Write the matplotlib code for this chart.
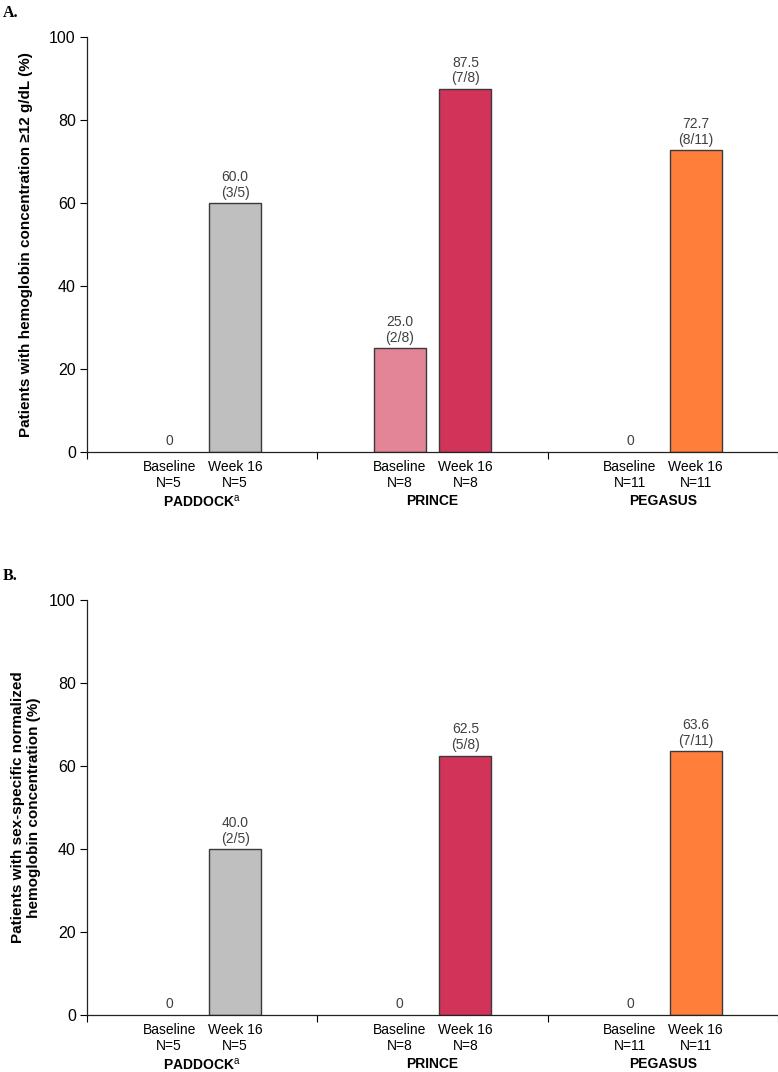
import numpy as np
import matplotlib
matplotlib.use('Agg')
import matplotlib.pyplot as plt
from matplotlib.ticker import MultipleLocator, FixedLocator

plt.rcParams['font.family'] = ['Liberation Sans', 'DejaVu Sans']
plt.rcParams['mathtext.fontset'] = 'custom'
plt.rcParams['mathtext.rm'] = 'Liberation Sans'

studies = ['PADDOCK$^{\\mathrm{a}}$', 'PRINCE', 'PEGASUS']
n_pts = [5, 8, 11]

# panel A: hemoglobin >= 12 g/dL
a_base = [0.0, 25.0, 0.0]
a_base_k = [0, 2, 0]
a_wk16 = [60.0, 87.5, 72.7]
a_wk16_k = [3, 7, 8]

# panel B: sex-specific normalized hemoglobin
b_base = [0.0, 0.0, 0.0]
b_base_k = [0, 0, 0]
b_wk16 = [40.0, 62.5, 63.6]
b_wk16_k = [2, 5, 7]

base_colors = ['#BFBFBF', '#E38497', '#FF7F3A']
wk16_colors = ['#BFBFBF', '#D23358', '#FF7F3A']

ylab_a = 'Patients with hemoglobin concentration \u226512 g/dL (%)'
ylab_b = 'Patients with sex-specific normalized\nhemoglobin concentration (%)'

off = 0.143
bw = 0.226


def value_label(v, k, n):
    if v == 0:
        return '0'
    return '%.1f\n(%d/%d)' % (v, k, n)


def draw_panel(ax, base, base_k, wk16, wk16_k, ylab, lpad):
    x = np.arange(len(studies))
    for i in range(len(studies)):
        for pos, v, k, col in [(x[i] - off, base[i], base_k[i], base_colors[i]),
                               (x[i] + off, wk16[i], wk16_k[i], wk16_colors[i])]:
            if v > 0:
                ax.bar(pos, v, width=bw, color=col, edgecolor='#3a3a3a', linewidth=1.0, zorder=2)
            ax.annotate(value_label(v, k, n_pts[i]), xy=(pos, v), xytext=(0, 2.5),
                        textcoords='offset points', ha='center', va='bottom',
                        fontsize=10, color='#404040', linespacing=1.15)
        ax.annotate(studies[i], xy=(x[i], 0), xycoords=('data', 'axes fraction'),
                    xytext=(0, -35.5), textcoords='offset points', ha='center', va='center',
                    fontsize=10, fontweight='bold')

    ticks = []
    labels = []
    for i in range(len(studies)):
        ticks += [x[i] - off, x[i] + off]
        labels += ['Baseline\nN=%d' % n_pts[i], 'Week 16\nN=%d' % n_pts[i]]
    ax.set_xticks(ticks)
    ax.set_xticklabels(labels, fontsize=10, linespacing=1.15)
    ax.tick_params(axis='x', which='major', length=0, pad=6)
    ax.xaxis.set_minor_locator(FixedLocator([-0.5, 0.5, 1.5, 2.5]))
    ax.tick_params(axis='x', which='minor', length=5, width=0.8, direction='out')

    ax.set_xlim(-0.5, 2.5)
    ax.set_ylim(0, 100)
    ax.yaxis.set_major_locator(MultipleLocator(20))
    ax.tick_params(axis='y', length=5, width=0.8, labelsize=11.5, pad=3)
    for s in ['top', 'right']:
        ax.spines[s].set_visible(False)
    for s in ['left', 'bottom']:
        ax.spines[s].set_linewidth(0.9)
        ax.spines[s].set_color('#222222')
    ax.set_ylabel(ylab, fontsize=11, fontweight='bold', labelpad=lpad, linespacing=1.15)


fig = plt.figure(figsize=(7.78, 10.72), dpi=100)
ax1 = fig.add_axes([0.1118, 0.5784, 0.8882, 0.3871])
ax2 = fig.add_axes([0.1118, 0.0532, 0.8882, 0.3871])

draw_panel(ax1, a_base, a_base_k, a_wk16, a_wk16_k, ylab_a, 12)
draw_panel(ax2, b_base, b_base_k, b_wk16, b_wk16_k, ylab_b, 6)

fig.text(0.004, 0.988, 'A.', fontsize=11.5, fontweight='bold', family='Liberation Serif', va='center')
fig.text(0.004, 0.463, 'B.', fontsize=11.5, fontweight='bold', family='Liberation Serif', va='center')

plt.savefig('out.png', dpi=100)
